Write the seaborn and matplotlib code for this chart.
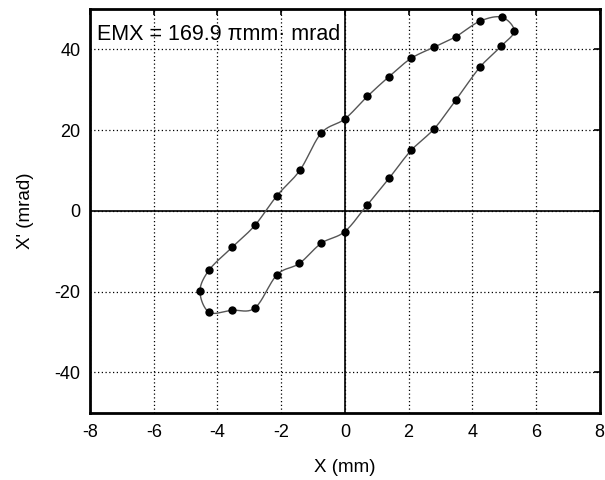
import numpy as np
import pandas as pd
import matplotlib
matplotlib.use("Agg")
import matplotlib.pyplot as plt
import seaborn as sns

# Measured phase-space contour points (closed loop, in drawing order)
x_mm = [-4.55, -4.26, -3.54, -2.83, -2.13, -1.41, -0.74, 0.00, 0.71, 1.39,
        2.08, 2.81, 3.49, 4.24, 4.93, 5.32, 4.92, 4.24, 3.49, 2.81,
        2.08, 1.39, 0.71, 0.00, -0.74, -1.43, -2.13, -2.82, -3.54, -4.26]
xp_mrad = [-19.9, -14.6, -9.0, -3.6, 3.8, 10.1, 19.3, 22.8, 28.4, 33.3,
           37.8, 40.6, 43.2, 47.0, 48.0, 44.6, 40.9, 35.6, 27.5, 20.4,
           15.0, 8.1, 1.6, -5.1, -8.0, -13.0, -15.8, -24.0, -24.6, -25.1]

x_ticks = [-8, -6, -4, -2, 0, 2, 4, 6, 8]
y_ticks = [-40, -20, 0, 20, 40]
emittance = 169.9

pts = pd.DataFrame({"x": x_mm, "xp": xp_mrad})


def closed_catmull_rom(xs, ys, n_seg=20):
    """Smooth closed curve through the given points."""
    P = np.column_stack([xs, ys])
    n = len(P)
    t = np.linspace(0, 1, n_seg, endpoint=False)[:, None]
    out = []
    for i in range(n):
        p0, p1, p2, p3 = P[(i - 1) % n], P[i], P[(i + 1) % n], P[(i + 2) % n]
        seg = 0.5 * ((2 * p1) + (-p0 + p2) * t
                     + (2 * p0 - 5 * p1 + 4 * p2 - p3) * t ** 2
                     + (-p0 + 3 * p1 - 3 * p2 + p3) * t ** 3)
        out.append(seg)
    out.append(P[:1])
    c = np.vstack(out)
    return c[:, 0], c[:, 1]


cx, cy = closed_catmull_rom(x_mm, xp_mrad)
curve = pd.DataFrame({"x": cx, "xp": cy})

sns.set_style("white")
plt.rcParams["font.family"] = ["Liberation Sans", "DejaVu Sans"]
plt.rcParams["axes.unicode_minus"] = False
plt.rcParams["text.color"] = "black"
plt.rcParams["axes.labelcolor"] = "black"
plt.rcParams["xtick.color"] = "black"
plt.rcParams["ytick.color"] = "black"

fig = plt.figure(figsize=(6.05, 4.8), dpi=100)
ax = fig.add_axes([0.149, 0.140, 0.842, 0.841])

# dotted grid and solid zero axes
for xv in x_ticks:
    ax.axvline(xv, color="black", lw=0.9, ls=(0, (1, 2)), zorder=1)
for yv in y_ticks:
    ax.axhline(yv, color="black", lw=0.9, ls=(0, (1, 2)), zorder=1)
ax.axhline(0, color="black", lw=1.2, zorder=1.5)
ax.axvline(0, color="black", lw=1.2, zorder=1.5)

sns.lineplot(data=curve, x="x", y="xp", sort=False, estimator=None,
             color="#555555", lw=1.0, ax=ax, zorder=2)
sns.scatterplot(data=pts, x="x", y="xp", color="black", s=36,
                edgecolor="black", linewidth=0, ax=ax, zorder=3)

ax.set_xlim(-8, 8)
ax.set_ylim(-50, 50)
ax.set_xticks(x_ticks)
ax.set_yticks(y_ticks)
ax.tick_params(direction="in", length=4, width=1.2, top=True, right=True,
               labelsize=13, labelcolor="black", color="black", pad=8)
ax.tick_params(axis="y", pad=7)
for s in ax.spines.values():
    s.set_color("black")
    s.set_linewidth(2.0)

ax.set_xlabel("X (mm)", fontsize=13.5, labelpad=13, color="black")
ax.set_ylabel("X' (mrad)", fontsize=13.5, labelpad=15, color="black")

ax.text(0.013, 0.962, f"EMX = {emittance} \u03c0mm\u00b7 mrad", transform=ax.transAxes,
        fontsize=15.5, ha="left", va="top", color="black", zorder=4)

fig.savefig("out.png", dpi=100)
